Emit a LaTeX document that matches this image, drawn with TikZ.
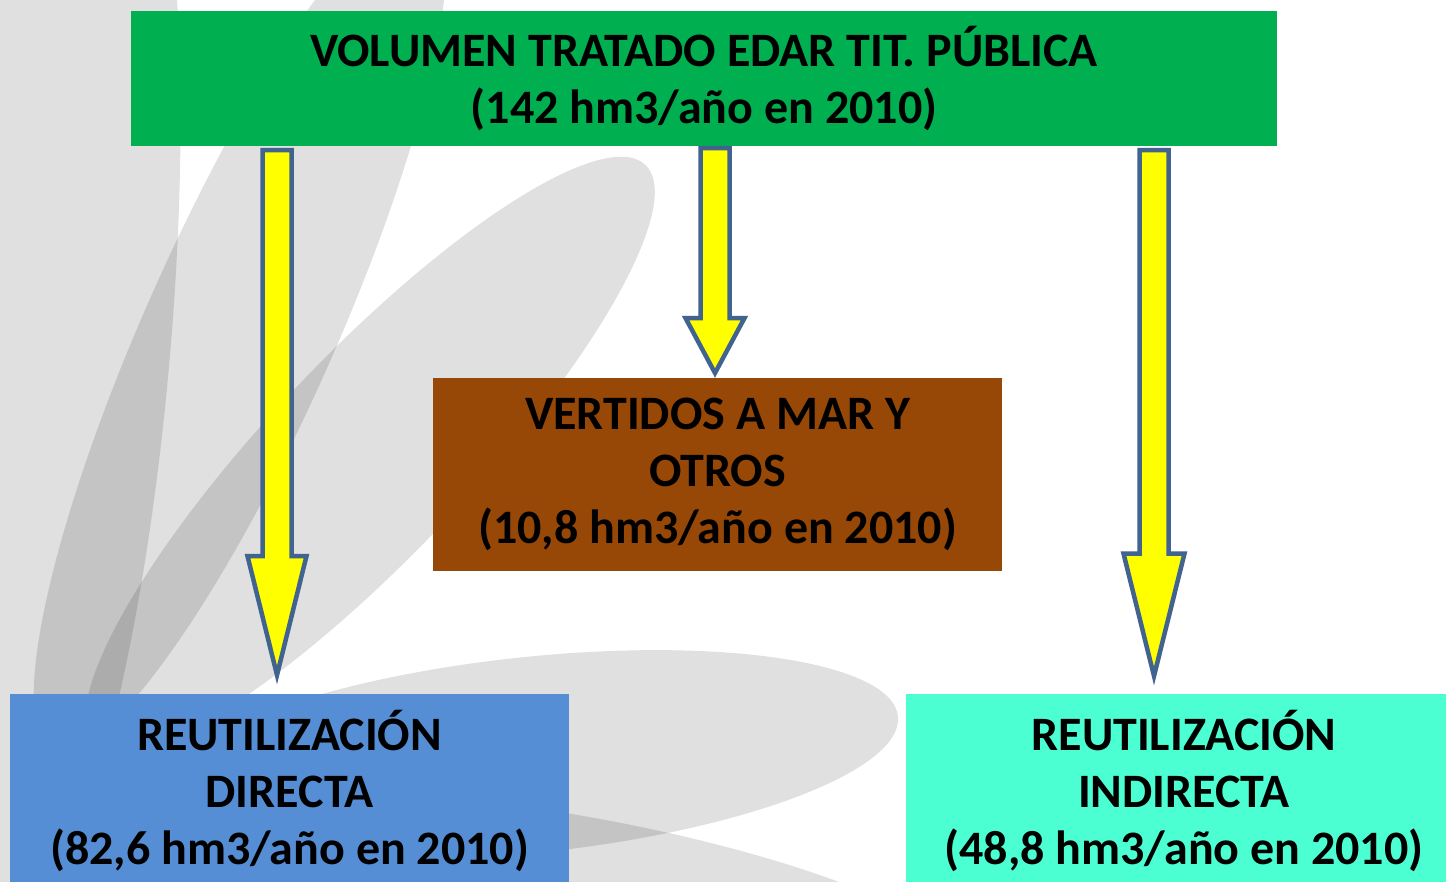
\documentclass[tikz,border=0pt]{standalone}
\usepackage{fontspec}
\setmainfont{Carlito}
\usetikzlibrary{calc}
\definecolor{topgreen}{HTML}{00B050}
\definecolor{brownbox}{HTML}{984806}
\definecolor{bluebox}{HTML}{558ED5}
\definecolor{tealbox}{HTML}{4BFFD2}
\definecolor{arrowline}{RGB}{65,99,143}
\definecolor{arrowfill}{HTML}{FFFF00}
\newcommand\blockarr[5]{%
  \draw[blockarrow] let \p1=(#1), \p2=(#2) in
   (\x1-#3pt,\y1) -- (\x1+#3pt,\y1) -- (\x1+#3pt,\y2+#5pt) -- (\x1+#4pt,\y2+#5pt)
   -- (\x2,\y2) -- (\x1-#4pt,\y2+#5pt) -- (\x1-#3pt,\y2+#5pt) -- cycle;}
\begin{document}
\begin{tikzpicture}[x=1pt,y=-1pt,
  box/.style={inner sep=0pt, font=\fontsize{48}{57}\selectfont\bfseries, align=center, text=black},
  petal/.style={fill=black, fill opacity=0.12, draw=none},
  blockarrow/.style={draw=arrowline, fill=arrowfill, line width=4.5pt, line join=miter}]
\useasboundingbox (0,0) rectangle (1446,881);
\fill[white] (0,0) rectangle (1446,881);
% background petals
\fill[petal, rotate around={-5:(50,350)}] (50,350) ellipse [x radius=120, y radius=600];
\fill[petal, rotate around={66:(240,330)}] (240,330) ellipse [x radius=460, y radius=95];
\fill[petal, rotate around={46.5:(370,455)}] (370,455) ellipse [x radius=400, y radius=100];
\fill[petal, rotate around={6:(530,755)}] (530,755) ellipse [x radius=370, y radius=98];
\fill[petal, rotate around={-10:(570,905)}] (570,905) ellipse [x radius=410, y radius=90];
% boxes
\node[box, fill=topgreen, minimum width=1146pt, minimum height=135pt] (top) at (704,78.5)
  {VOLUMEN TRATADO EDAR TIT. PÚBLICA\\(142 hm3/año en 2010)};
\node[box, fill=brownbox, minimum width=569pt, minimum height=193pt] (mar) at (717.5,474.5)
  {VERTIDOS A MAR Y\\OTROS\\(10,8 hm3/año en 2010)};
\node[box, fill=bluebox, minimum width=559pt, minimum height=194pt] (dir) at (289.5,791)
  {REUTILIZACIÓN\\DIRECTA\\(82,6 hm3/año en 2010)};
\node[box, fill=tealbox, minimum width=556pt, minimum height=194pt] (ind) at (1184,791)
  {REUTILIZACIÓN\\INDIRECTA\\(48,8 hm3/año en 2010)};
% arrows
\coordinate (a1s) at (277,150);  \coordinate (a1e) at (277,675);
\coordinate (a2s) at (715,148);  \coordinate (a2e) at (715,373);
\coordinate (a3s) at (1154,150); \coordinate (a3e) at (1154,676);
\blockarr{a1s}{a1e}{14.5}{29.5}{119}
\blockarr{a2s}{a2e}{14.5}{29.5}{55}
\blockarr{a3s}{a3e}{14.5}{30.5}{122.5}
\end{tikzpicture}
\end{document}
